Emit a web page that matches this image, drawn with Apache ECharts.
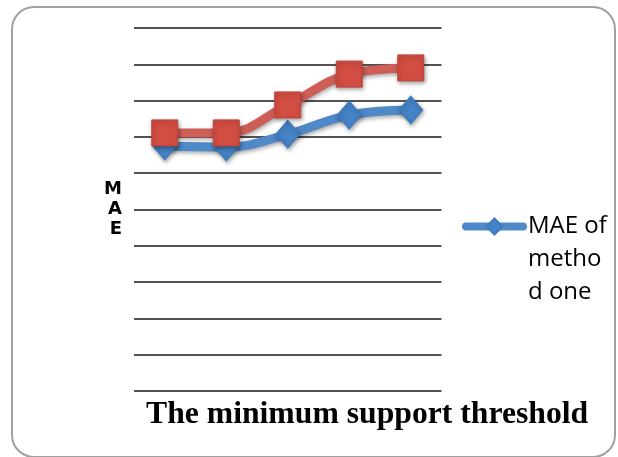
<!DOCTYPE html>
<html>
<head>
<meta charset="utf-8">
<script src="https://cdn.jsdelivr.net/npm/echarts@6/dist/echarts.min.js"></script>
<style>
  html, body { margin: 0; padding: 0; background: #fff; }
  #chart { width: 618px; height: 457px; }
</style>
</head>
<body>
<div id="chart"></div>
<script>
// Minimum support threshold steps (no tick labels are shown on the axis)
const categories = ['1', '2', '3', '4', '5'];
// MAE values for the two methods
const maeMethodOne = [0.675, 0.672, 0.707, 0.760, 0.774];
const maeMethodTwo = [0.711, 0.711, 0.788, 0.873, 0.890];

const chart = echarts.init(document.getElementById('chart'));

const shadow = {
  shadowColor: 'rgba(0,0,0,0.35)',
  shadowBlur: 4,
  shadowOffsetX: 1,
  shadowOffsetY: 2
};

chart.setOption({
  animation: false,
  backgroundColor: '#ffffff',
  graphic: [{
    type: 'rect',
    shape: { x: 12, y: 7, width: 603, height: 450, r: 22 },
    style: { fill: 'none', stroke: '#a0a0a0', lineWidth: 2 },
    z: -1
  }],
  title: {
    text: 'The minimum support threshold',
    left: 141,
    top: 394,
    textStyle: {
      fontFamily: 'Liberation Serif',
      fontWeight: 'bold',
      fontSize: 31.7,
      color: '#000'
    }
  },
  legend: {
    data: ['MAE of method one'],
    left: 462,
    top: 141,
    padding: 0,
    itemWidth: 57,
    itemHeight: 20,
    itemGap: 0,
    // the label wraps inside a narrow legend box; its first line sits beside the icon
    formatter: function () { return '\n\nMAE of\nmetho\nd one'; },
    lineStyle: { width: 8, cap: 'round' },
    textStyle: {
      fontFamily: 'Open Sans',
      fontSize: 24,
      lineHeight: 33,
      padding: [6, 0, 0, 0],
      color: '#000'
    }
  },
  grid: { left: 134, right: 176.5, top: 28, bottom: 66 },
  xAxis: {
    type: 'category',
    data: categories,
    boundaryGap: true,
    axisLine: { show: false },
    axisTick: { show: false },
    axisLabel: { show: false }
  },
  yAxis: {
    type: 'value',
    min: 0,
    max: 1,
    interval: 0.1,
    name: 'M\nA\nE',
    nameLocation: 'middle',
    nameRotate: 0,
    nameGap: 12,
    nameTextStyle: {
      fontFamily: 'DejaVu Sans',
      fontWeight: 'bold',
      fontSize: 18,
      lineHeight: 20,
      color: '#000'
    },
    axisLine: { show: false },
    axisTick: { show: false },
    axisLabel: { show: false },
    splitLine: { lineStyle: { color: '#1a1a1a', width: 1.6 } }
  },
  series: [
    {
      name: 'MAE of method one',
      type: 'line',
      data: maeMethodOne,
      smooth: 0.4,
      symbol: 'diamond',
      symbolSize: [24, 28],
      lineStyle: Object.assign({ color: '#4f89c8', width: 9 }, shadow),
      itemStyle: Object.assign({ color: '#4583c6', borderColor: '#3f7bbd', borderWidth: 1 }, shadow)
    },
    {
      name: 'MAE of method two',
      type: 'line',
      data: maeMethodTwo,
      smooth: 0.4,
      symbol: 'rect',
      symbolSize: 26,
      lineStyle: Object.assign({ color: '#cd5f58', width: 9 }, shadow),
      itemStyle: Object.assign({ color: '#d24d42', borderColor: '#c0453c', borderWidth: 1 }, shadow)
    }
  ]
});
</script>
</body>
</html>
